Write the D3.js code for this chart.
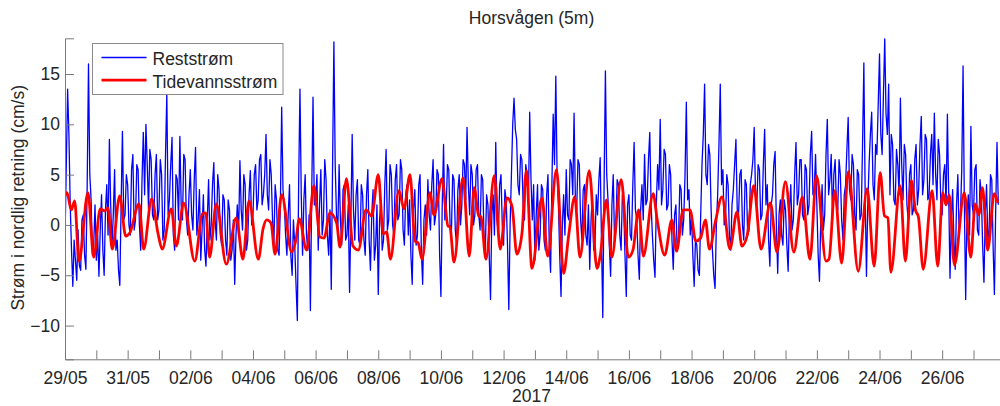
<!DOCTYPE html>
<html>
<head>
<meta charset="utf-8">
<script src="https://cdn.jsdelivr.net/npm/d3@7"></script>
<style>
body { margin: 0; background: #fff; }
svg text { font-family: "Liberation Sans", Arial, sans-serif; fill: #262626; }
</style>
</head>
<body>
<script>
// chart text
var title = "Horsvågen (5m)";
var yLabel = "Strøm i nordlig retning (cm/s)";
var xLabel = "2017";
var seriesNames = ["Reststrøm", "Tidevannsstrøm"];
var yTicks = [-10, -5, 0, 5, 10, 15];

// time axis: hours after 29/05/2017 00:00
var startDate = new Date(2017, 4, 29);
var xEndHours = 716.3;
var yMin = -13.35, yMax = 18.55;

// residual current (cm/s), one value per hour, one row per day
var restStepHours = 1;
var restSpeed = [
  -1.5, 6.0, 13.5, 9.0, 2.0, -2.5, -6.1, -1.5, -3.5, -5.5, -0.5, -4.0, -4.5, 0.5, 1.0, -3.0, -4.4, 4.0, 16.0, 5.0, 2.5, -3.0, -2.0, 2.0,
  -3.5, -1.0, -5.1, -0.5, 3.0, -2.5, -5.0, 1.5, 4.0, -1.0, 8.5, 2.0, -2.0, 1.0, 5.5, -2.5, -1.5, -4.5, -6.0, 2.0, 9.3, 0.5, 1.0, 5.0,
  4.0, 0.0, -1.0, 5.5, 7.0, -0.5, 0.5, 6.0, 5.5, 0.0, -2.5, 4.5, 9.2, 3.0, 10.0, 6.0, 1.5, 7.5, 6.5, 1.0, 0.5, 5.0, 7.0, 0.5,
  1.5, 6.5, 5.0, -1.5, -0.5, 7.0, 13.0, 1.0, 2.5, 6.0, 8.7, -1.0, -2.5, 5.0, 4.5, 0.5, 8.8, 2.0, 0.5, 7.0, 6.5, 0.5, -1.0, 3.0,
  5.5, 1.0, -0.5, 4.5, 7.7, -1.0, 0.5, 3.5, -3.5, -0.5, 3.0, -2.5, -4.1, 0.5, 4.5, -1.5, 0.0, 4.0, 6.2, 0.5, -1.5, 5.0, 3.5, -1.0,
  -2.0, 3.0, 2.5, -1.5, -3.0, 2.5, 1.5, -3.5, -2.5, 0.5, -5.9, -1.0, 2.0, -1.0, 6.4, 1.5, -0.5, 5.0, 4.0, -2.5, -1.5, 3.0, 5.4, 0.0,
  1.0, 5.0, 6.0, 1.5, 2.5, 6.5, 7.0, 2.0, 3.0, 5.0, 9.0, 3.0, 1.5, 6.5, 5.0, 0.5, -2.0, 4.0, 2.5, -2.5, -3.0, 2.0, 11.7, 3.5,
  2.0, -1.0, -3.0, 1.0, 4.0, -3.0, -5.0, 0.5, -2.0, -6.0, -9.5, 4.0, 13.5, 3.0, -3.0, 2.5, 5.0, -1.0, -2.5, 1.0, -8.5, 3.0, 12.7, 2.0,
  2.0, 5.0, -2.5, 2.0, 5.5, -1.0, 0.5, 6.5, 4.5, -1.0, -3.0, 1.5, -6.4, 6.0, 18.2, 6.0, 1.0, -0.5, 6.0, 0.5, -2.0, 3.5, 4.0, -1.5,
  -1.0, 2.0, -6.7, 0.5, 9.0, 1.5, -1.5, 3.0, 4.5, -1.5, -2.0, 4.0, 3.0, -1.5, -3.0, 3.0, 5.5, -1.5, -4.5, 1.0, 3.5, -3.5, -2.0, 2.0,
  -6.9, 0.5, 2.5, -2.5, -1.5, 4.0, 7.5, -0.5, 0.5, 6.0, 5.0, 0.0, -1.0, 4.5, 6.0, 0.5, 1.0, 6.5, 5.5, -0.5, -2.0, 3.0, 4.0, -1.0,
  2.5, -3.0, -5.9, 1.5, 3.5, -2.0, -1.0, 4.0, 5.0, -2.5, -5.9, 0.5, 2.0, -1.0, 4.5, 1.0, -0.5, 4.0, 6.5, 0.0, 1.0, 5.5, 5.0, -3.0,
  -7.1, 2.0, 8.0, 0.5, 1.5, 6.0, 5.5, 0.0, -1.0, 5.0, 4.5, -0.5, -2.0, 3.5, 5.0, 0.0, 2.0, 6.5, 6.0, 2.5, 9.7, 4.0, 1.0, 6.0,
  5.0, 0.0, 1.0, 5.5, 6.0, 1.0, -0.5, 5.0, 4.5, -1.0, -2.5, 3.0, 2.0, -3.0, -7.4, 1.0, 3.0, -1.0, 8.2, 0.5, -1.0, 4.0, 5.0, 0.0,
  -2.0, 3.5, 2.5, -2.0, -8.4, 0.0, 5.0, 10.0, 12.6, 9.5, 8.5, 4.0, 3.0, 7.0, 6.5, 2.0, 0.5, 6.0, 5.0, 2.0, 11.2, 4.5, 0.5, 4.0,
  -3.5, 1.0, 4.0, -2.5, -1.0, 4.0, 3.5, -1.5, -2.5, 3.0, 5.0, -2.0, -4.7, 4.0, 11.0, 6.0, 14.8, 5.0, 2.0, -3.0, -7.1, 0.0, 3.0, -1.0,
  5.5, 1.0, 0.5, 6.5, 6.0, 3.0, 11.1, 2.5, 1.5, 6.5, 6.0, 0.5, -1.5, 3.5, 4.0, -1.0, -2.0, 2.0, -4.4, 0.5, 3.0, -2.5, -2.0, 3.0,
  1.0, 4.5, 6.7, -1.5, -9.2, 4.0, 15.3, 5.0, 2.5, -2.0, -5.1, 2.0, 5.0, -1.5, -0.5, 4.5, 4.0, -1.0, -2.5, 3.0, 2.0, -3.0, -7.1, 2.0,
  3.0, -1.0, -1.5, 4.0, 8.2, 1.5, 0.5, -3.0, -5.4, 1.5, 4.0, 0.5, 7.0, 2.0, 2.5, 6.5, 9.2, 2.0, -1.0, -3.5, -5.2, 2.0, 6.0, 3.5,
  10.5, 2.0, 3.5, 7.5, 7.0, 1.5, 2.0, 6.0, 5.0, -1.5, -4.4, 1.0, 2.0, -2.5, -1.5, 4.0, 3.5, -1.0, 0.5, 5.0, 12.2, 2.5, 3.5, -1.0,
  1.0, -3.0, -6.1, -1.5, -2.0, -4.5, -5.0, 1.0, 6.0, 9.0, 14.0, 5.0, 4.0, 8.0, 7.0, 1.5, -2.5, -5.0, -6.3, 0.0, 3.0, 8.0, 14.0, 4.0,
  5.5, 0.0, 0.5, 5.0, 4.0, -1.0, -2.5, 2.0, 3.5, 6.0, 8.5, 1.5, 1.0, 5.0, 5.5, 0.0, -1.5, 4.5, 4.0, -1.0, -0.5, 4.0, 5.0, 6.5,
  9.7, 3.0, 2.0, 6.0, 5.5, 0.5, 1.0, 6.0, 9.5, 2.0, 4.0, -1.5, -4.1, 2.0, 3.0, 6.0, 7.3, 0.0, -4.8, 1.0, 2.5, -1.0, -2.0, 2.5,
  1.5, -2.0, -4.6, 1.5, 4.0, -0.5, 0.5, 5.0, 8.2, 2.0, 3.0, 6.5, 6.5, 1.0, 0.5, 6.0, 5.5, 1.0, 2.0, 7.0, 9.3, 3.0, 3.5, 7.0,
  2.0, -3.0, -5.6, 0.5, 4.0, -0.5, 1.0, 7.0, 10.5, 3.0, 4.5, 7.0, 0.5, 5.0, 6.5, 2.0, 1.5, 6.5, 5.0, 0.5, -1.5, 3.0, 4.0, 7.5,
  10.7, 3.5, 2.5, 7.0, 6.0, 1.0, -0.5, 5.5, 5.0, 0.5, 1.0, 8.0, 16.1, 3.0, -5.1, 2.0, 6.0, 9.0, 11.2, 4.0, 2.5, 8.0, 7.0, 12.0,
  17.0, 9.0, 7.0, 13.0, 18.5, 11.0, 9.0, 14.0, 3.0, 9.0, 8.0, 2.5, 2.0, 7.5, 6.0, 3.0, 12.6, 6.0, 2.5, 8.0, 7.0, 2.0, 0.5, 5.0,
  6.0, 1.0, 1.5, 6.5, 8.0, 2.0, 3.5, 8.0, 10.8, 3.0, 4.5, 9.0, 8.5, 2.5, 3.0, 7.0, 9.0, 4.0, 11.1, 5.0, 2.5, 8.5, 7.0, 2.0,
  1.0, 5.0, 6.0, 2.0, 11.0, 3.0, -5.3, 0.5, 3.5, -1.5, -4.4, 2.0, 5.0, -1.0, 1.0, 5.5, 15.8, 2.0, -7.4, 1.0, 3.0, -1.0, 9.8, 2.0,
  1.0, 5.5, 6.0, -0.5, -1.0, 4.5, 3.0, -2.0, -5.7, 1.0, 4.0, -1.5, -0.5, 5.0, 4.5, -2.0, -6.9, 1.5, 8.2, 2.0
];

// tidal current: turning points (hours after start) and speeds (cm/s)
var tideHours = [
  0, 1.5, 4.8, 7.4, 10.7, 17.6, 22.0, 27.0, 30.4, 32.9, 36.2, 41.9, 46.5, 49.6,
  56.7, 60.3, 66.4, 71.2, 74.5, 81.4, 85.3, 90.9, 99.4, 105.2, 107.8, 110.8,
  115.9, 123.6, 131.2, 136.3, 141.0, 148.1, 151.7, 154.5, 157.8, 160.9, 166.0,
  173.7, 176.9, 179.5, 185.1, 190.7, 195.3, 198.4, 203.0, 208.1, 210.7, 215.6,
  220.6, 224.7, 230.6, 234.9, 240.0, 243.8, 246.4, 249.3, 255.8, 259.7, 264.3,
  268.1, 270.6, 273.5, 279.6, 282.7, 288.8, 293.4, 294.9, 298.0, 304.9, 309.7,
  313.5, 316.9, 318.7, 322.5, 328.8, 333.4, 338.6, 342.4, 346.2, 350.1, 353.4,
  357.7, 365.4, 369.8, 376.5, 382.0, 385.8, 390.5, 394.5, 401.6, 407.5, 410.1,
  414.8, 418.9, 426.1, 431.6, 435.1, 439.5, 443.1, 450.6, 453.7, 459.4, 464.9,
  468.5, 473.6, 478.8, 483.3, 486.9, 490.6, 493.7, 498.4, 503.3, 509.4, 514.8,
  518.6, 522.7, 527.7, 533.2, 540.4, 545.4, 551.9, 558.3, 564.9, 570.7, 575.7,
  583.0, 585.3, 589.7, 595.0, 600.1, 607.7, 614.5, 619.9, 624.5, 627.8, 630.4,
  632.7, 639.8, 643.8, 648.4, 651.5, 653.8, 657.5, 664.3, 668.6, 672.4, 674.9,
  677.4, 681.4, 688.9, 693.9, 697.3, 700.1, 702.9, 706.8, 711.9, 714.7
];
var tideSpeed = [
  2.9, 3.2, 1.5, 2.4, -3.6, 3.2, -3.2, 1.6, 1.4, 1.7, -2.4, 2.9, -1.1, -0.8,
  2.1, -2.4, 2.6, -0.8, -2.4, 1.6, -2.1, 2.2, -3.6, 1.1, 1.2, -3.2,
  2.1, -3.9, 0.7, -3.4, 2.4, -3.4, -0.4, 0.5, 0.2, -2.9, 3.0,
  -2.7, -1.5, 0.6, -2.5, 3.9, -1.2, -1.3, 1.2, 0.2, -2.2, 4.6,
  -2.1, -2.5, 1.5, 0.9, 5.0, -0.9, -0.7, -3.4, 3.4, 1.6, 5.0,
  -1.6, -1.8, -3.4, 3.2, 1.0, 4.6, -0.1, -0.2, -3.7, 4.7, -3.1,
  3.7, 0.9, 0.8, -3.4, 4.9, -2.4, 2.7, 1.9, -2.9, -0.8, 5.4,
  -4.3, 2.7, -3.1, 5.5, -4.8, -1.1, 2.8, -3.2, 5.4, -4.3, -3.0,
  2.5, -3.2, 4.5, -3.2, -2.5, 1.5, -3.1, 3.1, 0.5, -3.0, 0.5,
  -2.6, 1.5, 1.5, -1.6, -1.3, 0.5, -2.4, 0.4, 2.8, -2.4, 1.3,
  -2.1, -1.0, 3.9, -2.4, 2.2, -2.7, 4.3, -2.7, 2.8, -3.4, 4.9,
  -3.6, -3.4, 3.4, -3.8, 5.3, -4.6, 3.6, -4.1, 5.2, 0.9, 0.7,
  -4.7, 3.9, -3.6, 4.4, 1.5, 0.8, -4.4, 3.4, -4.1, 3.2, 2.0,
  3.0, -4.0, 3.2, -3.2, 2.1, 1.0, 3.7, -2.5, 3.1, 2.2
];

var width = 1000, height = 406;
var plot = { left: 65, right: 1000, top: 38.3, bottom: 359.3 };

var hoursToDate = function(h) {
  return new Date(startDate.getTime() + h * 3600 * 1000);
};

var restData = restSpeed.map(function(v, i) {
  return { date: hoursToDate(i * restStepHours), value: v };
});
var tideData = tideSpeed.map(function(v, i) {
  return { date: hoursToDate(tideHours[i]), value: v };
});

var x = d3.scaleTime()
  .domain([startDate, hoursToDate(xEndHours)])
  .range([plot.left, plot.right]);
var y = d3.scaleLinear()
  .domain([yMin, yMax])
  .range([plot.bottom, plot.top]);

var svg = d3.select("body").append("svg")
  .attr("width", width).attr("height", height);

svg.append("clipPath").attr("id", "plotclip")
  .append("rect")
  .attr("x", plot.left).attr("y", plot.top - 1)
  .attr("width", plot.right - plot.left).attr("height", plot.bottom - plot.top + 1);

var lineGen = function(curve) {
  return d3.line()
    .x(function(d) { return x(d.date); })
    .y(function(d) { return y(d.value); })
    .curve(curve);
};

var plotArea = svg.append("g").attr("clip-path", "url(#plotclip)");

plotArea.append("path")
  .datum(restData)
  .attr("fill", "none")
  .attr("stroke", "#0000ff")
  .attr("stroke-width", 1.3)
  .attr("stroke-linejoin", "round")
  .attr("d", lineGen(d3.curveLinear));

plotArea.append("path")
  .datum(tideData)
  .attr("fill", "none")
  .attr("stroke", "#ff0000")
  .attr("stroke-width", 2.8)
  .attr("stroke-linejoin", "round")
  .attr("d", lineGen(d3.curveMonotoneX));

//// axes ////
var dayTicks = d3.timeDay.range(startDate, hoursToDate(xEndHours));
var fmt = d3.timeFormat("%d/%m");

var xAxis = d3.axisBottom(x)
  .tickValues(dayTicks)
  .tickSize(-9)
  .tickPadding(12)
  .tickFormat(function(d, i) { return i % 2 === 0 ? fmt(d) : ""; });

var yAxis = d3.axisLeft(y)
  .tickValues(yTicks)
  .tickSize(-9)
  .tickPadding(5)
  .tickFormat(d3.format("d"));

var gx = svg.append("g")
  .attr("transform", "translate(0," + plot.bottom + ")")
  .call(xAxis);
var gy = svg.append("g")
  .attr("transform", "translate(" + plot.left + ",0)")
  .call(yAxis);

[gx, gy].forEach(function(g) {
  g.select(".domain").attr("stroke", "#7a7a7a");
  g.selectAll(".tick line").attr("stroke", "#7a7a7a");
  g.selectAll(".tick text")
    .attr("font-size", 17.5)
    .attr("font-family", "'Liberation Sans', Arial, sans-serif")
    .attr("fill", "#262626");
});

// titles
svg.append("text")
  .attr("x", (plot.left + plot.right) / 2 - 1)
  .attr("y", 24)
  .attr("text-anchor", "middle")
  .attr("font-size", 17.5)
  .text(title);

svg.append("text")
  .attr("x", (plot.left + plot.right) / 2 - 1)
  .attr("y", 402)
  .attr("text-anchor", "middle")
  .attr("font-size", 17.5)
  .text(xLabel);

svg.append("text")
  .attr("transform", "translate(24," + ((plot.top + plot.bottom) / 2 - 1) + ") rotate(-90)")
  .attr("text-anchor", "middle")
  .attr("font-size", 17.5)
  .text(yLabel);

//// legend ////
var legend = svg.append("g").attr("transform", "translate(92.5,43.5)");
legend.append("rect")
  .attr("width", 190.5).attr("height", 51)
  .attr("fill", "#fff")
  .attr("stroke", "#8a8a8a")
  .attr("stroke-width", 1);

var legendColors = ["#0000ff", "#ff0000"];
var legendWidths = [1.3, 2.8];
seriesNames.forEach(function(name, i) {
  var ly = 14 + i * 22.7;
  legend.append("line")
    .attr("x1", 9).attr("x2", 54)
    .attr("y1", ly).attr("y2", ly)
    .attr("stroke", legendColors[i])
    .attr("stroke-width", legendWidths[i]);
  legend.append("text")
    .attr("x", 60).attr("y", ly + 7.5)
    .attr("font-size", 17.5)
    .text(name);
});
</script>
</body>
</html>
